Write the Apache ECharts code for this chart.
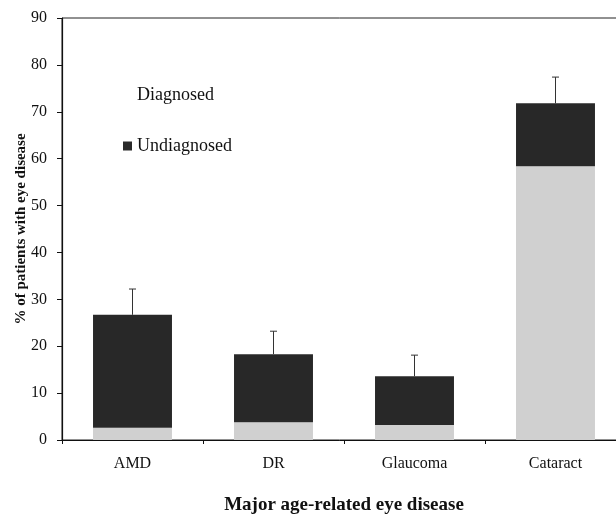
<!DOCTYPE html>
<html><head><meta charset="utf-8">
<script src="https://cdn.jsdelivr.net/npm/echarts@6/dist/echarts.min.js"></script>
<style>html,body{margin:0;padding:0;background:#fff}#c{width:616px;height:515px}</style>
</head><body><div id="c"></div>
<script>
const categories = ['AMD', 'DR', 'Glaucoma', 'Cataract'];
const diagnosed = [2.6, 3.8, 3.2, 58.4];
const undiagnosed = [24.1, 14.5, 10.4, 13.4];
const errorUpper = [5.5, 4.9, 4.5, 5.6];
const yTicks = [0, 10, 20, 30, 40, 50, 60, 70, 80, 90];

const totals = categories.map((c, i) => diagnosed[i] + undiagnosed[i]);
const errData = categories.map((c, i) => [i, totals[i], totals[i] + errorUpper[i]]);

const font = 'Liberation Serif, Times New Roman, serif';
const chart = echarts.init(document.getElementById('c'));
chart.setOption({
  animation: false,
  grid: { left: 62, top: 18, width: 564, height: 422, containLabel: false, outerBoundsMode: 'none',
    show: true, borderColor: '#222', borderWidth: 1 },
  legend: {
    orient: 'vertical', left: 118, top: 81, itemWidth: 9, itemHeight: 9, itemGap: 33,
    textStyle: { fontFamily: font, fontSize: 18, color: '#111' },
    data: [
      { name: 'Diagnosed', icon: 'rect', itemStyle: { color: '#ffffff', opacity: 0 } },
      { name: 'Undiagnosed', icon: 'rect', itemStyle: { color: '#2a2a2a' } }
    ]
  },
  xAxis: {
    type: 'category', data: categories,
    axisLine: { lineStyle: { color: '#111', width: 1 } },
    axisTick: { show: true, length: 4, lineStyle: { color: '#111' } },
    axisLabel: { fontFamily: font, fontSize: 16, color: '#111', margin: 16 },
    name: 'Major age-related eye disease', nameLocation: 'middle', nameGap: 56,
    nameTextStyle: { fontFamily: font, fontSize: 19, fontWeight: 'bold', color: '#111' }
  },
  yAxis: {
    type: 'value', min: 0, max: 90, interval: 10,
    splitLine: { show: false },
    axisLine: { show: true, lineStyle: { color: '#111', width: 1.2 } },
    axisTick: { show: true, length: 5, lineStyle: { color: '#111' } },
    axisLabel: { fontFamily: font, fontSize: 16, color: '#111', margin: 15,
      formatter: v => yTicks.includes(v) ? String(v) : '' },
    name: '% of patients with eye disease', nameLocation: 'middle', nameGap: 33, nameRotate: 90,
    nameMoveOverlap: false,
    nameTextStyle: { fontFamily: font, fontSize: 15, fontWeight: 'bold', color: '#111' }
  },
  series: [
    { name: 'Diagnosed', type: 'bar', stack: 's', data: diagnosed, barWidth: '56%',
      itemStyle: { color: '#d0d0d0' } },
    { name: 'Undiagnosed', type: 'bar', stack: 's', data: undiagnosed, barWidth: '56%',
      itemStyle: { color: '#282828' } },
    { name: 'err', type: 'custom', data: errData, z: 5,
      renderItem: function (params, api) {
        const x = api.value(0);
        const lo = api.coord([x, api.value(1)]);
        const hi = api.coord([x, api.value(2)]);
        const style = { stroke: '#333', lineWidth: 1 };
        return { type: 'group', children: [
          { type: 'line', shape: { x1: lo[0], y1: lo[1], x2: hi[0], y2: hi[1] }, style: style },
          { type: 'line', shape: { x1: hi[0] - 3.5, y1: hi[1], x2: hi[0] + 3.5, y2: hi[1] }, style: style }
        ]};
      }
    }
  ]
});
</script></body></html>
